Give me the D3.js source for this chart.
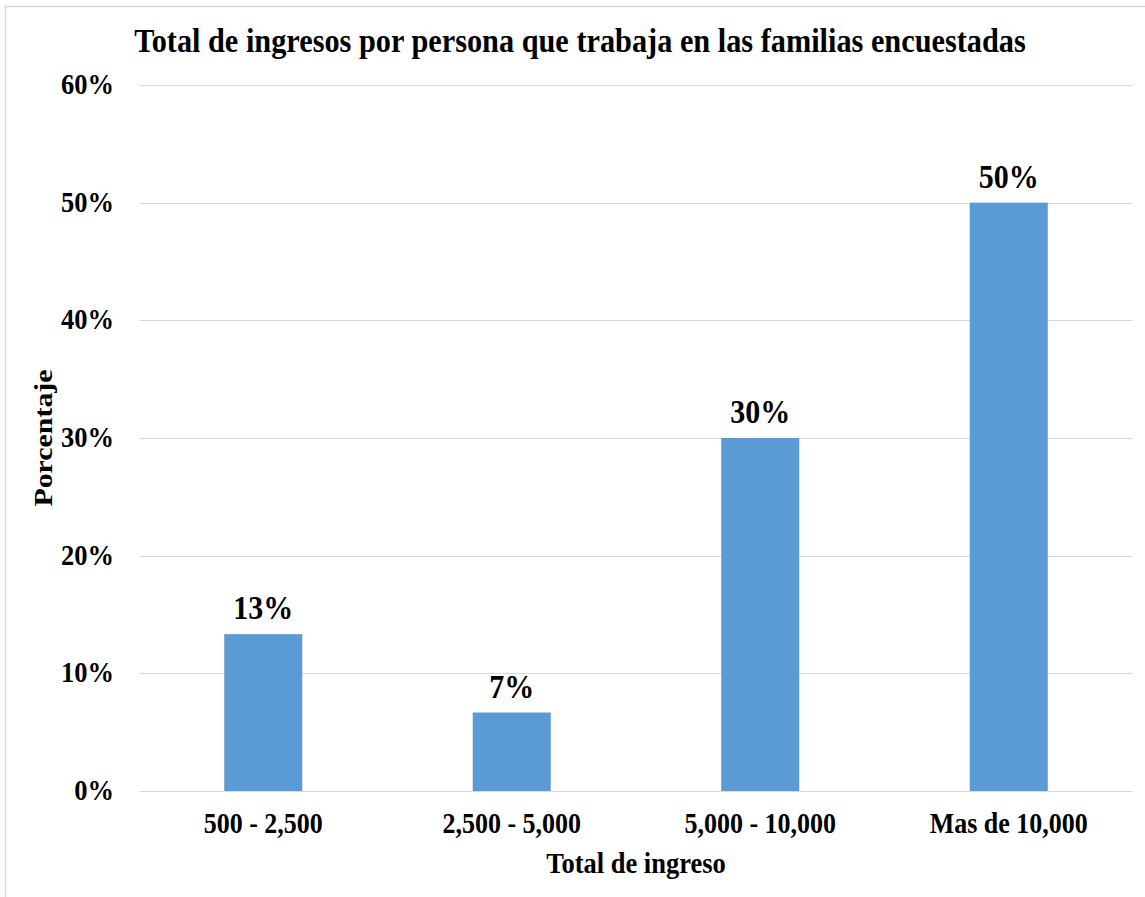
<!DOCTYPE html>
<html>
  <head>
    <script src="https://d3js.org/d3.v7.min.js"></script>
    <style>
      body { margin: 0; background: #fff; }
      text { font-family: "Liberation Serif", "Times New Roman", serif; font-weight: bold; fill: #000; }
    </style>
  </head>
  <body>
    <svg width="1145" height="897"></svg>
  </body>
</html>
<script>

const categories = ['500 - 2,500', '2,500 - 5,000', '5,000 - 10,000', 'Mas de 10,000'];
const values = [0.1333, 0.0667, 0.30, 0.50];
const valueLabels = ['13%', '7%', '30%', '50%'];
const yTicks = [0, 0.1, 0.2, 0.3, 0.4, 0.5, 0.6];

const svg = d3.select('svg');
const sy = 1.15; // text in the picture is a bit taller than wide

// outer chart border
svg.append('rect')
  .attr('x', 5.5).attr('y', 6.5)
  .attr('width', 1160).attr('height', 920)
  .style('fill', 'none')
  .style('stroke', '#d9d9d9')
  .style('stroke-width', 1.5);

const x = d3.scaleBand()
  .domain(categories)
  .range([139, 1133])
  .paddingInner(0.686)
  .paddingOuter(0.343);

const y = d3.scaleLinear()
  .domain([0, 0.6])
  .range([791, 85]);

const g = svg.append('g');

// gridlines
g.selectAll('line.grid')
  .data(yTicks)
  .enter()
  .append('line')
  .classed('grid', true)
  .attr('x1', 139)
  .attr('x2', 1133)
  .attr('y1', d => Math.round(y(d)) + 0.5)
  .attr('y2', d => Math.round(y(d)) + 0.5)
  .style('stroke', '#d9d9d9')
  .style('stroke-width', 1.2);

// y tick labels
g.selectAll('text.ytick')
  .data(yTicks)
  .enter()
  .append('text')
  .classed('ytick', true)
  .attr('transform', d => `translate(114,${y(d) + 9}) scale(1,${sy})`)
  .attr('text-anchor', 'end')
  .style('font-size', '26.5px')
  .text(d3.format('.0%'));

// bars
g.selectAll('rect.bar')
  .data(values)
  .enter()
  .append('rect')
  .classed('bar', true)
  .attr('x', (d, i) => x(categories[i]))
  .attr('width', x.bandwidth())
  .attr('y', d => y(d))
  .attr('height', d => y(0) - y(d))
  .style('fill', '#5b9bd5');

// value labels
g.selectAll('text.vlabel')
  .data(values)
  .enter()
  .append('text')
  .classed('vlabel', true)
  .attr('transform', (d, i) => `translate(${x(categories[i]) + x.bandwidth() / 2},${y(d) - 15}) scale(1,${sy})`)
  .attr('text-anchor', 'middle')
  .style('font-size', '30px')
  .text((d, i) => valueLabels[i]);

// category labels
g.selectAll('text.xtick')
  .data(categories)
  .enter()
  .append('text')
  .classed('xtick', true)
  .attr('transform', d => `translate(${x(d) + x.bandwidth() / 2},833) scale(1,${sy})`)
  .attr('text-anchor', 'middle')
  .style('font-size', '26px')
  .text(d => d);

// titles
svg.append('text')
  .attr('transform', `translate(580,52) scale(1,${sy * 0.94})`)
  .attr('text-anchor', 'middle')
  .style('font-size', '30.3px')
  .text('Total de ingresos por persona que trabaja en las familias encuestadas');

svg.append('text')
  .attr('transform', `translate(636,873) scale(1,${sy})`)
  .attr('text-anchor', 'middle')
  .style('font-size', '26.5px')
  .text('Total de ingreso');

svg.append('text')
  .attr('transform', `translate(52,438) rotate(-90) scale(${sy},1)`)
  .attr('text-anchor', 'middle')
  .style('font-size', '26px')
  .text('Porcentaje');

</script>
